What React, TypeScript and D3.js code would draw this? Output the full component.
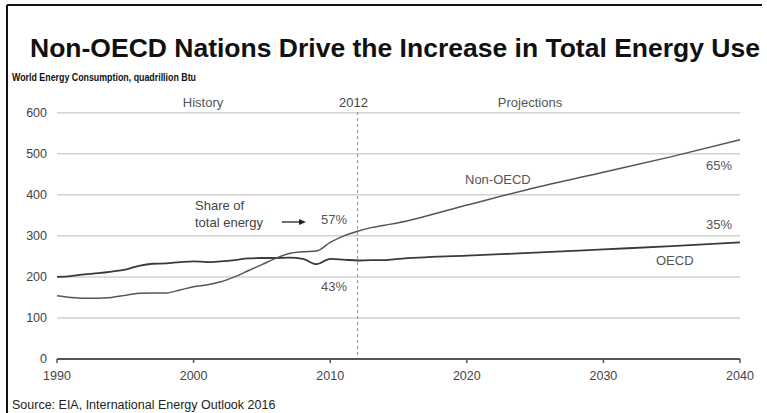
import React from "react";
import * as d3 from "d3";

const years = [1990,1991,1992,1993,1994,1995,1996,1997,1998,1999,2000,2001,2002,2003,2004,2005,2006,2007,2008,2009,2010,2011,2012,2013,2014,2015,2020,2025,2030,2035,2040];
const nonOecd = [154,150,148,148,150,155,160,161,161,168,176,181,188,200,215,230,245,257,261,263,284,300,311,320,326,332,375,417,455,493,534];
const oecd = [200,202,206,209,213,218,227,232,233,236,238,236,238,241,245,246,246,247,244,231,244,242,240,241,241,244,252,259,267,275,284];
const xTicks = [1990,2000,2010,2020,2030,2040];
const yTicks = [0,100,200,300,400,500,600];
const dividerYear = 2012;

const W = 767, H = 413;
const FONT = "'Liberation Sans', Arial, Helvetica, sans-serif";

export default function App() {
  const x = d3.scaleLinear().domain([1990, 2040]).range([57, 740]);
  const y = d3.scaleLinear().domain([0, 600]).range([359, 112.7]);
  const line = d3.line<number>().x((_, i) => x(years[i])).y(d => y(d)).curve(d3.curveMonotoneX);
  const xd = x(dividerYear);
  const lbl = 13;

  return (
    <svg width={W} height={H} style={{ position: "absolute", left: 0, top: 0, background: "#fff" }} fontFamily={FONT}>
      <rect x={0} y={0} width={W} height={H} fill="#fff" />
      {/* frame */}
      <line x1={7} x2={762} y1={5} y2={5} stroke="#111" strokeWidth={2} />
      <line x1={7} x2={7} y1={5} y2={H} stroke="#111" strokeWidth={2} />
      {/* title */}
      <text x={30} y={57} fontSize={26} fontWeight="bold" fill="#111" textLength={730} lengthAdjust="spacingAndGlyphs">
        Non-OECD Nations Drive the Increase in Total Energy Use
      </text>
      <text x={12} y={81} fontSize={11} fontWeight="bold" fill="#111" textLength={184} lengthAdjust="spacingAndGlyphs">
        World Energy Consumption, quadrillion Btu
      </text>
      {/* grid */}
      {yTicks.filter(t => t > 0).map(t => (
        <line key={t} x1={57} x2={740} y1={y(t)} y2={y(t)} stroke="#d2d2d2" strokeWidth={1.5} />
      ))}
      {yTicks.map(t => (
        <text key={t} x={47} y={y(t)} dy="0.35em" textAnchor="end" fontSize={12.5} fill="#444">{t}</text>
      ))}
      {/* divider */}
      <line x1={xd} x2={xd} y1={112} y2={357} stroke="#9a9a9a" strokeWidth={1.2} strokeDasharray="3,3" />
      <text x={xd - 4} y={102} dy="0.35em" textAnchor="middle" fontSize={lbl} fill="#444">2012</text>
      <text x={203} y={102} dy="0.35em" textAnchor="middle" fontSize={lbl} fill="#555">History</text>
      <text x={530} y={102} dy="0.35em" textAnchor="middle" fontSize={lbl} fill="#555">Projections</text>
      {/* x axis */}
      <line x1={57} x2={740} y1={359} y2={359} stroke="#555" strokeWidth={2} />
      {xTicks.map(t => (
        <g key={t}>
          <line x1={x(t)} x2={x(t)} y1={359} y2={363} stroke="#555" strokeWidth={1.5} />
          <text x={x(t)} y={376} dy="0.35em" textAnchor="middle" fontSize={12.5} fill="#444">{t}</text>
        </g>
      ))}
      {/* series */}
      <path d={line(oecd) || ""} fill="none" stroke="#3a3a3a" strokeWidth={1.8} />
      <path d={line(nonOecd) || ""} fill="none" stroke="#555" strokeWidth={1.5} />
      {/* annotations */}
      <text x={195} y={205} dy="0.35em" fontSize={lbl} fill="#444">Share of</text>
      <text x={195} y={222} dy="0.35em" fontSize={lbl} fill="#444">total energy</text>
      <line x1={282} x2={300} y1={222} y2={222} stroke="#222" strokeWidth={1.3} />
      <path d="M299,219 L306,222 L299,225 Z" fill="#222" />
      <text x={321} y={219} dy="0.35em" fontSize={lbl} fill="#555">57%</text>
      <text x={321} y={286} dy="0.35em" fontSize={lbl} fill="#555">43%</text>
      <text x={465} y={179} dy="0.35em" fontSize={lbl} fill="#555">Non-OECD</text>
      <text x={732} y={165} dy="0.35em" textAnchor="end" fontSize={lbl} fill="#555">65%</text>
      <text x={732} y={224} dy="0.35em" textAnchor="end" fontSize={lbl} fill="#555">35%</text>
      <text x={656} y={260} dy="0.35em" fontSize={lbl} fill="#555">OECD</text>
      {/* source */}
      <text x={12} y={405} dy="0.35em" fontSize={12.5} fill="#222">Source: EIA, International Energy Outlook 2016</text>
    </svg>
  );
}
